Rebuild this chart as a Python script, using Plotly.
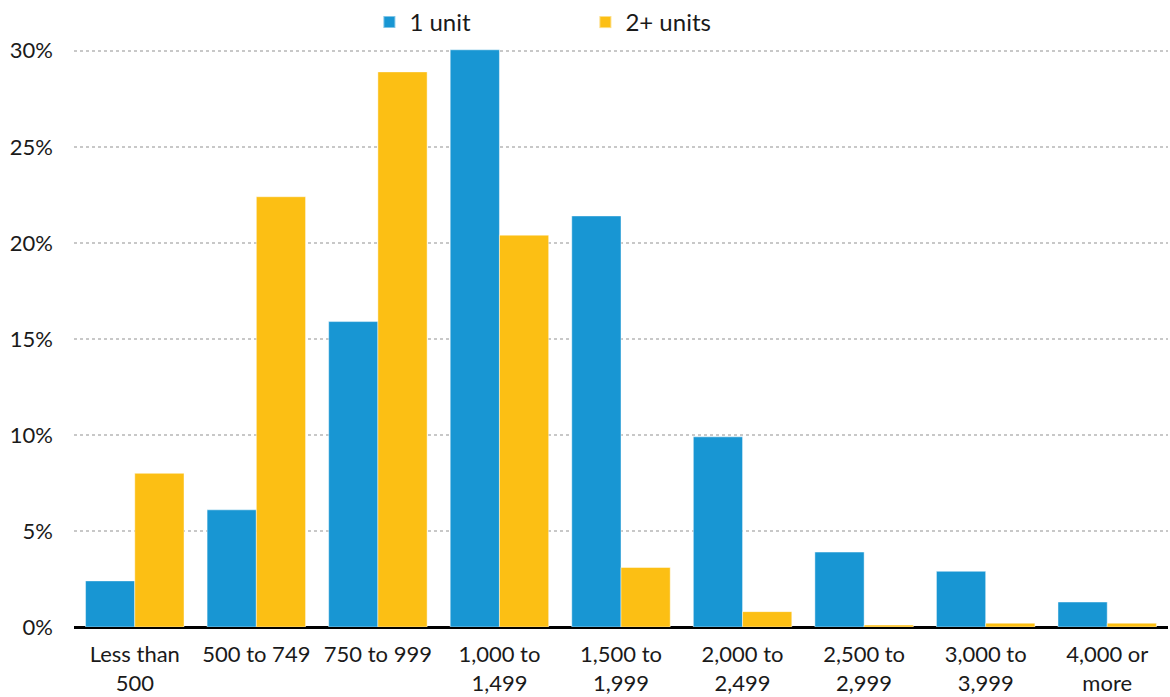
import plotly.graph_objects as go

categories = ["Less than<br>500", "500 to 749", "750 to 999", "1,000 to<br>1,499", "1,500 to<br>1,999",
              "2,000 to<br>2,499", "2,500 to<br>2,999", "3,000 to<br>3,999", "4,000 or<br>more"]
one_unit = [2.4, 6.1, 15.9, 30.05, 21.4, 9.9, 3.9, 2.9, 1.3]
two_plus = [8.0, 22.4, 28.9, 20.4, 3.1, 0.8, 0.1, 0.2, 0.2]
y_ticks = [0, 5, 10, 15, 20, 25, 30]
y_tick_labels = ["0%", "5%", "10%", "15%", "20%", "25%", "30%"]

FONT = "Lato, 'Noto Sans', sans-serif"

fig = go.Figure()
fig.add_trace(go.Bar(x=categories, y=one_unit, name="1 unit",
                     marker=dict(color="#1896d3", line=dict(color="rgba(255,255,255,0.45)", width=1))))
fig.add_trace(go.Bar(x=categories, y=two_plus, name="2+ units",
                     marker=dict(color="#fcbf14", line=dict(color="rgba(255,255,255,0.45)", width=1))))

fig.update_layout(
    width=1170, height=697,
    margin=dict(l=74, r=2, t=44, b=70),
    paper_bgcolor="white", plot_bgcolor="white",
    font=dict(family=FONT, size=22, color="#1a1a1a"),
    barmode="group", bargap=0.19, bargroupgap=0,
    showlegend=True,
    legend=dict(orientation="h", x=0.27, xanchor="left", yref="container", y=1.0, yanchor="top",
                font=dict(size=24), entrywidth=171, itemsizing="constant",
                traceorder="normal", bgcolor="rgba(0,0,0,0)"),
    xaxis=dict(showgrid=False, ticks="", showline=False, tickfont=dict(size=22),
               ticklabelstandoff=12, automargin=False),
    yaxis=dict(range=[0, 30.3], tickvals=y_ticks, ticktext=y_tick_labels,
               showgrid=True, gridcolor="#c8c8c8", griddash="dot", gridwidth=1.5,
               zeroline=True, zerolinecolor="#000000", zerolinewidth=2.5,
               ticks="", ticklabelstandoff=20, tickfont=dict(size=22), automargin=False),
)

fig.write_html("out.html", config={"displayModeBar": False},
               post_script="document.body.style.margin='0px';")
